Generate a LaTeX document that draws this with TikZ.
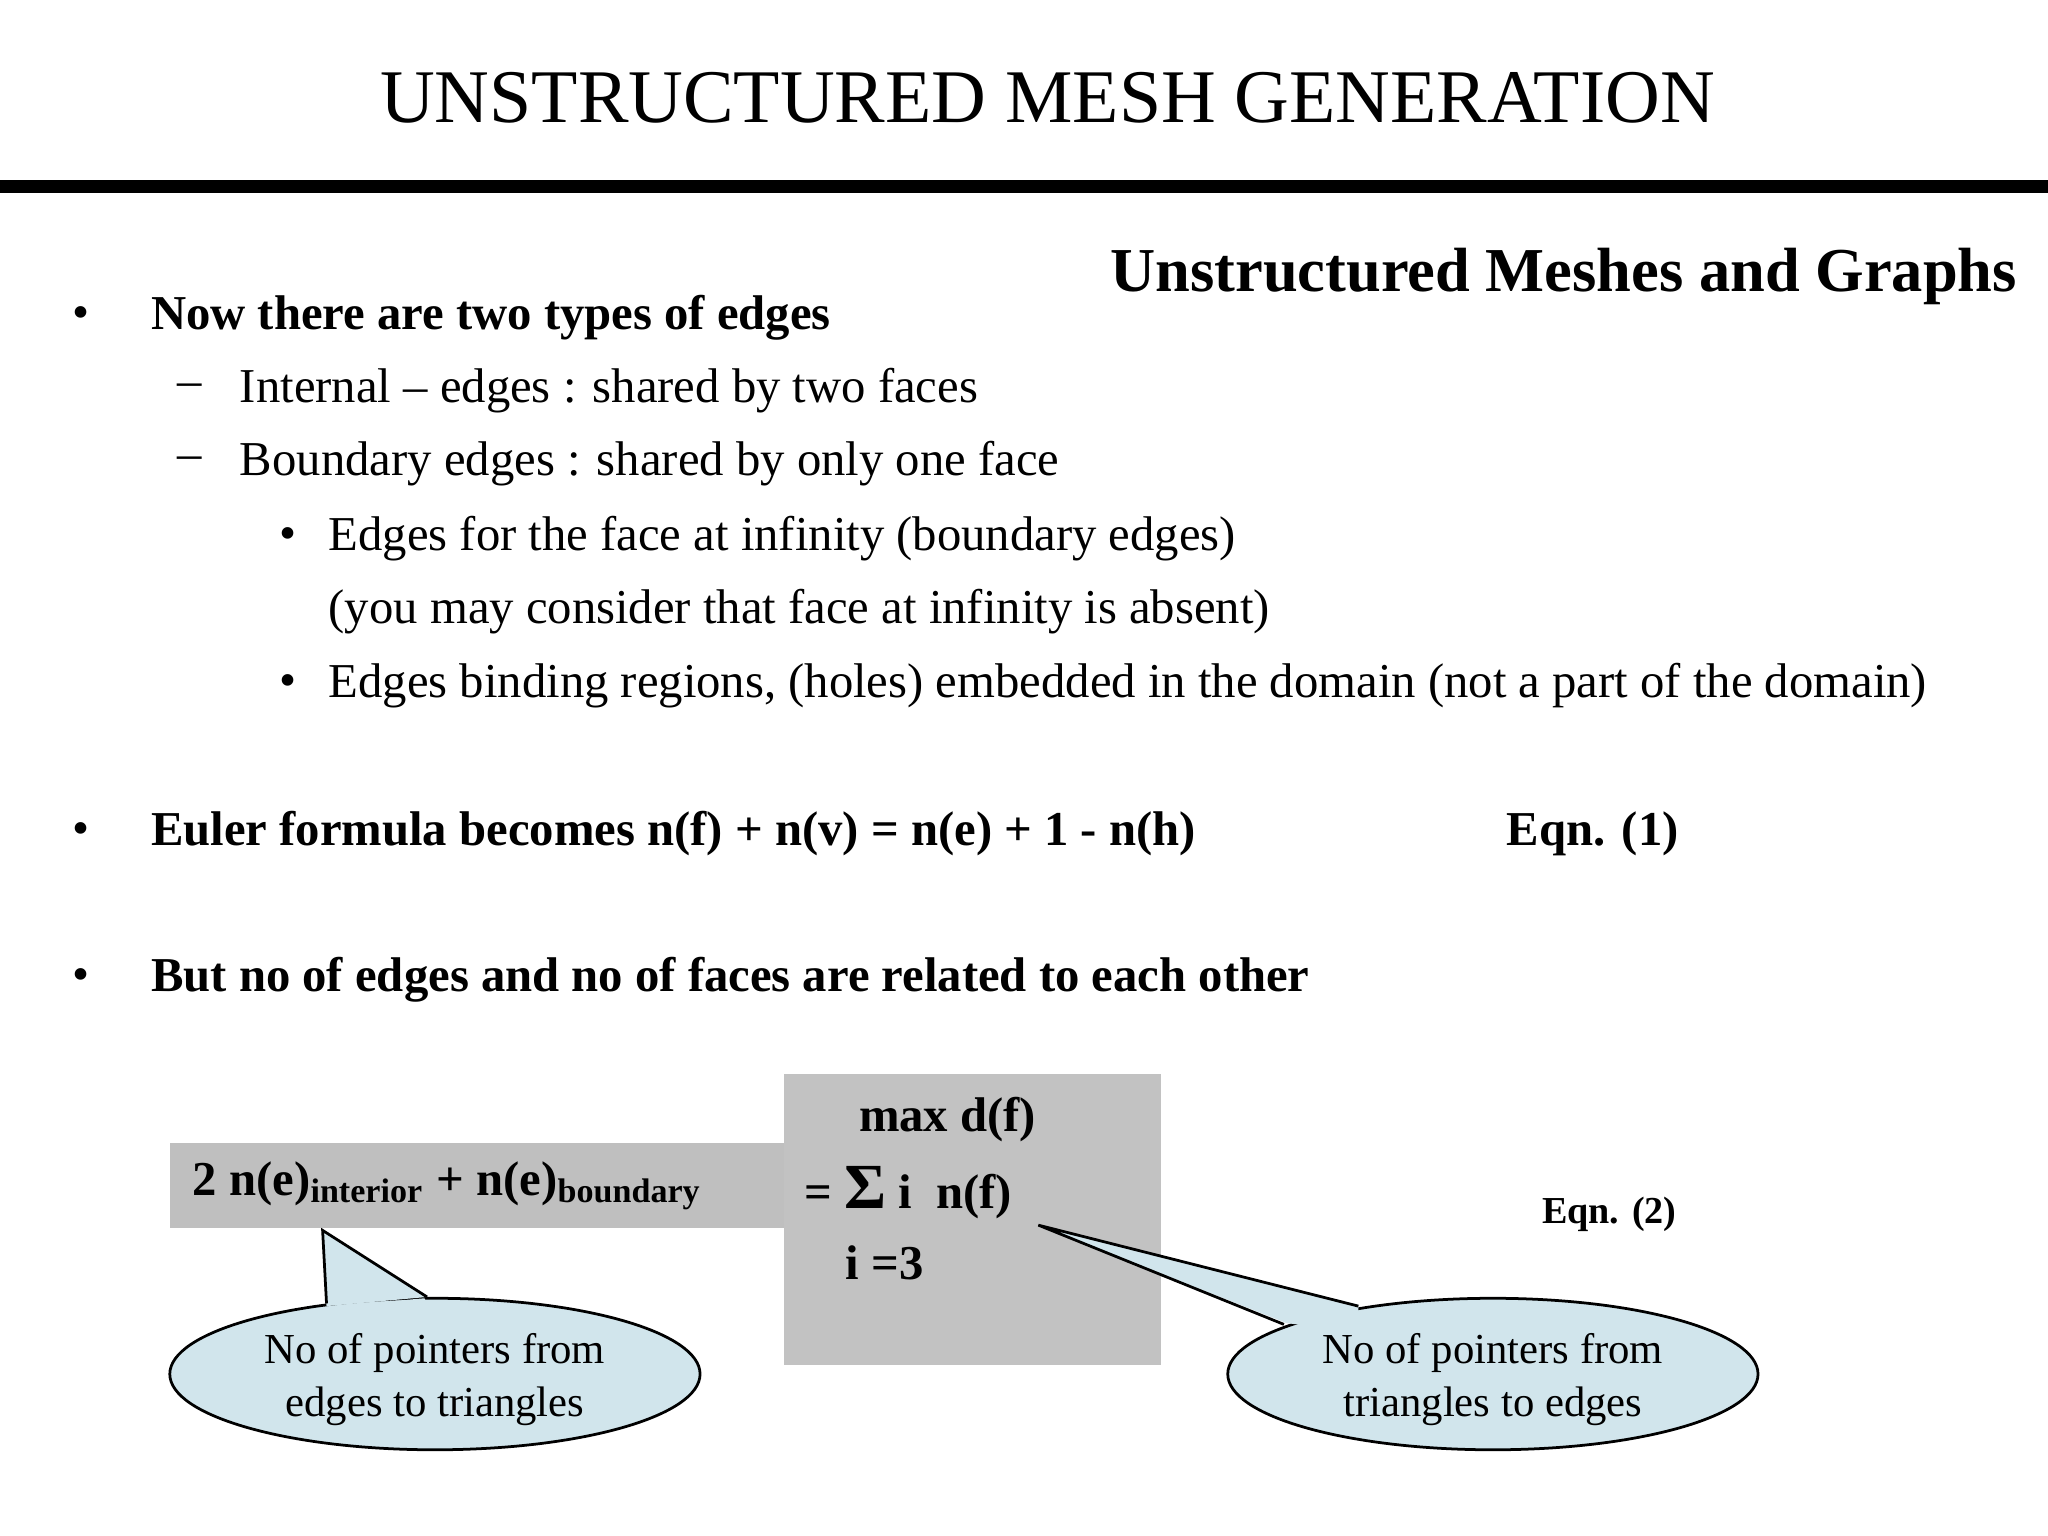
\documentclass[tikz,border=0pt]{standalone}
\usepackage{fontspec}
\setmainfont{Liberation Serif}
\begin{document}
\begin{tikzpicture}[x=0.01cm,y=-0.01cm,
  txt/.style={anchor=west,inner sep=0pt,font=\fontsize{10.6}{12}\selectfont},
  btxt/.style={anchor=west,inner sep=0pt,font=\fontsize{10.6}{12}\selectfont\bfseries},
  callout/.style={fill=cyan!25!teal!20,draw=black,line width=0.6pt},
  ctxt/.style={align=center,inner sep=0pt,font=\fontsize{9.3}{11.5}\selectfont}]
\useasboundingbox (0,0) rectangle (1568,1176);
\node[inner sep=0pt,font=\fontsize{16.5}{18}\selectfont] (title) at (802,75) {UNSTRUCTURED MESH GENERATION};
\fill (0,138) rectangle (1568,148);
\node[anchor=east,inner sep=0pt,font=\fontsize{13.6}{15}\selectfont\bfseries] (sub) at (1545,212) {Unstructured Meshes and Graphs};
\node[txt] (b1) at (55,243) {•}; \node[btxt] (t1) at (115,243) {Now there are two types of edges};
\node[txt] (d1) at (135,299) {–}; \node[txt] (t2) at (183,299) {Internal – edges : shared by two faces};
\node[txt] (d2) at (135,355) {–}; \node[txt] (t3) at (183,355) {Boundary edges : shared by only one face};
\node[txt] (b2) at (213,412) {•}; \node[txt] (t4) at (251,412) {Edges for the face at infinity (boundary edges)};
\node[txt] (t5) at (251,468) {(you may consider that face at infinity is absent)};
\node[txt] (b3) at (213,525) {•}; \node[txt] (t6) at (251,525) {Edges binding regions, (holes) embedded in the domain (not a part of the domain)};
\node[txt] (b4) at (55,638) {•}; \node[btxt] (t7) at (115,638) {Euler formula becomes n(f) + n(v) = n(e) + 1 - n(h)};
\node[btxt] (e1) at (1153,638) {Eqn. (1)};
\node[txt] (b5) at (55,750) {•}; \node[btxt] (t8) at (115,750) {But no of edges and no of faces are related to each other};
\fill[gray!50] (130,875) rectangle (600,940);
\fill[black!24] (600,822) rectangle (889,1045);
\node[btxt] (lhs) at (147,908) {2 n(e)\textsubscript{interior} + n(e)\textsubscript{boundary}};
\node[btxt] (m1) at (657,857) {max d(f)};
\node[btxt] (m2) at (615,913) {= {\fontsize{14}{14}\selectfont Σ} i\ \ n(f)};
\node[btxt] (m3) at (647,967) {i =3};
\node[anchor=west,inner sep=0pt,font=\fontsize{8.3}{10}\selectfont\bfseries] (e2) at (1180,930) {Eqn. (2)};
% left callout
\draw[callout] (333,1052) ellipse [x radius=203,y radius=58];
\fill[cyan!25!teal!20] (250,1000) -- (247,942) -- (327,993) -- cycle;
\fill[cyan!25!teal!20] (255,1000) -- (325,994) -- (333,1010) -- cycle;
\draw[line width=0.6pt] (250,998) -- (247,942) -- (327,993);
\node[ctxt] (c1) at (333,1056) {No of pointers from\\edges to triangles};
% right callout
\draw[callout] (1143,1052) ellipse [x radius=203,y radius=58];
\fill[cyan!25!teal!20] (985,1013) -- (795,938) -- (1040,999) -- (1040,1020) -- cycle;
\draw[line width=0.6pt] (983,1014) -- (795,938) -- (1040,1000);
\node[ctxt] (c2) at (1143,1056) {No of pointers from\\triangles to edges};
\end{tikzpicture}
\end{document}
